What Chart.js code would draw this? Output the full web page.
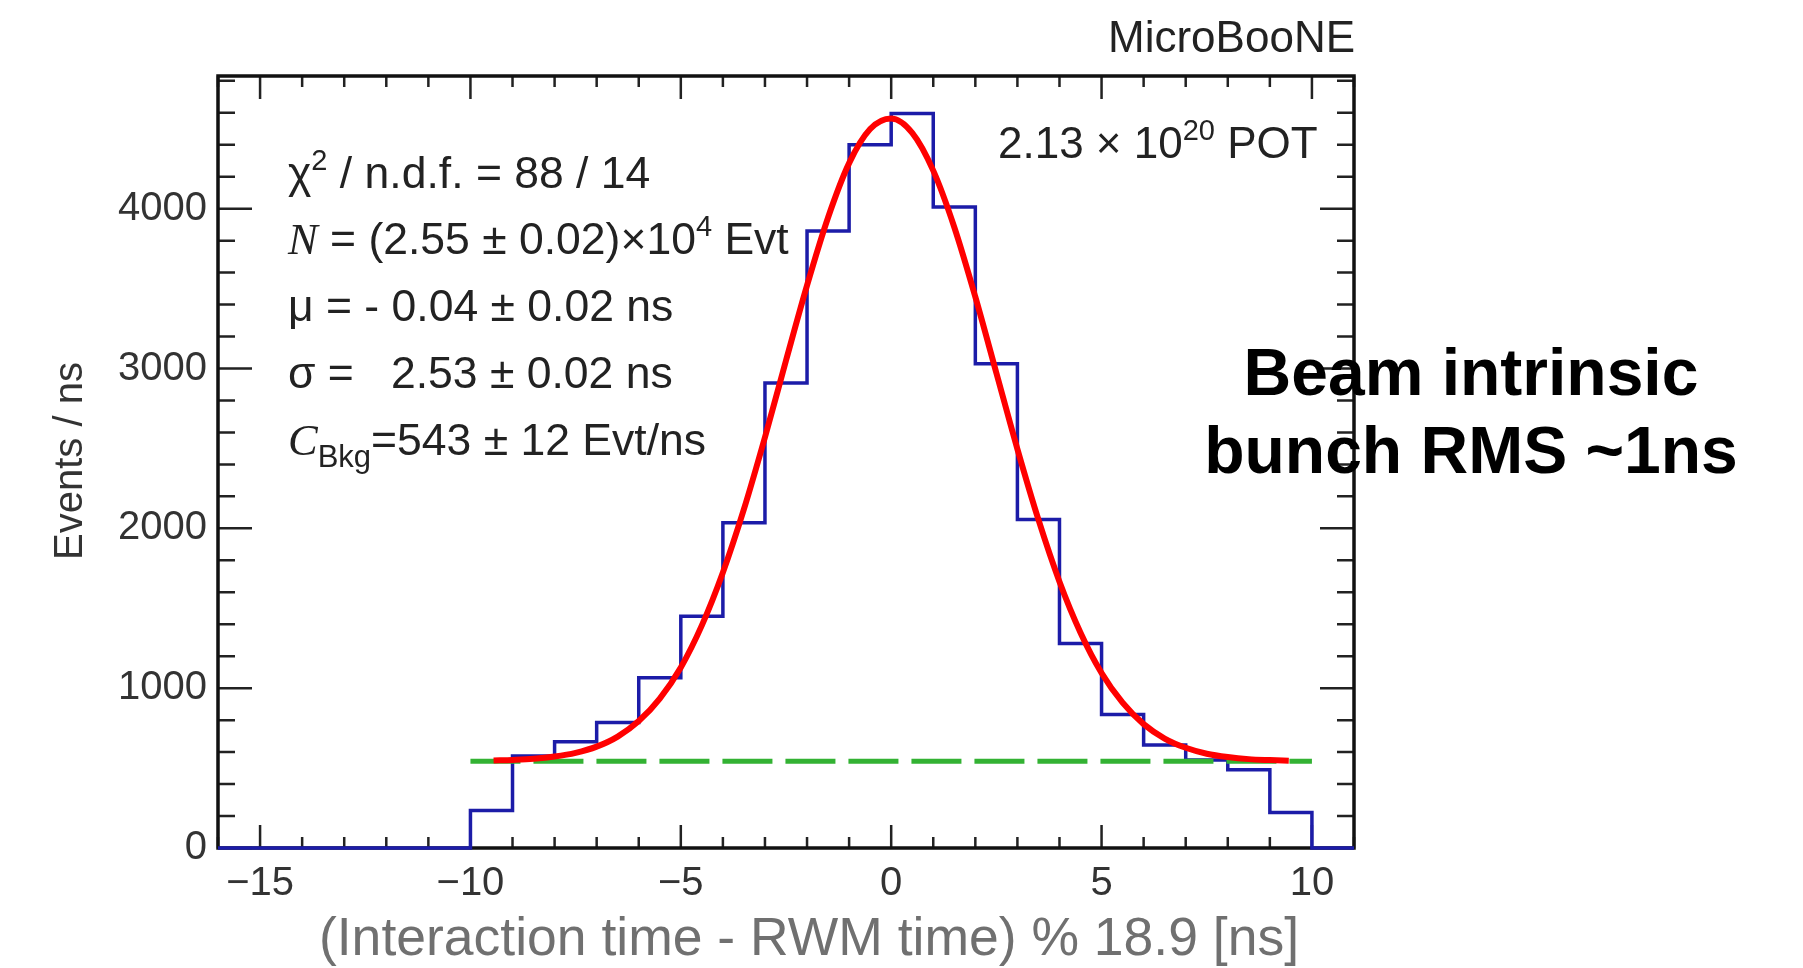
<!DOCTYPE html>
<html>
<head>
<meta charset="utf-8">
<script src="https://cdn.jsdelivr.net/npm/chart.js@4/dist/chart.umd.min.js"></script>
<style>
  html, body { margin: 0; padding: 0; background: #fff; }
  #graphicTiming { display: block; }
</style>
</head>
<body>
<canvas id="graphicTiming" width="1803" height="968"></canvas>
<script>
// histogram of (interaction time - RWM time) % 18.9, 1 ns bins
const binEdges = [-10, -9, -8, -7, -6, -5, -4, -3, -2, -1, 0, 1, 2, 3, 4, 5, 6, 7, 8, 9, 10];
const eventsPerNs = [235, 575, 665, 785, 1065, 1450, 2035, 2910, 3860, 4400,
                     4595, 4010, 3030, 2055, 1280, 835, 645, 550, 490, 222];

// gaussian + flat background fit
const fitTimes = [-9.45, -9, -8.5, -8, -7.5, -7, -6.5, -6, -5.5, -5, -4.5, -4, -3.5, -3, -2.5, -2, -1.5, -1, -0.5,
                  0, 0.5, 1, 1.5, 2, 2.5, 3, 3.5, 4, 4.5, 5, 5.5, 6, 6.5, 7, 7.5, 8, 8.5, 9, 9.45];
const fitValues = [547, 551, 558, 572, 595, 634, 697, 794, 935, 1130, 1393, 1724, 2120, 2570, 3050, 3520, 3945, 4285, 4498,
                   4564, 4474, 4238, 3884, 3448, 2972, 2496, 2054, 1666, 1347, 1095, 909, 775, 685, 627, 590, 569, 556, 550, 546];

// background level (C_Bkg)
const bkgTimes = [-10, 10];
const bkgValues = [543, 543];

const xTickLabels = [-15, -10, -5, 0, 5, 10];
const yTickLabels = [0, 1000, 2000, 3000, 4000];

const SANS = '"Liberation Sans", Arial, Helvetica, sans-serif';
const SERIF = '"Liberation Serif", "Times New Roman", serif';

function drawRuns(ctx, x, y, runs) {
  runs.forEach(r => {
    ctx.font = r.font;
    ctx.fillText(r.t, x, y + (r.dy || 0));
    x += ctx.measureText(r.t).width;
  });
}

// ROOT style frame: box + inward ticks on all four sides, and the text
const rootStyle = {
  id: "rootStyle",
  beforeDatasetsDraw(chart) {
    const { ctx, chartArea: a } = chart;
    const xs = chart.scales.x, ys = chart.scales.y;
    ctx.save();
    ctx.strokeStyle = "#222";
    ctx.lineWidth = 2.5;
    ctx.beginPath();
    for (let v = Math.ceil(xs.min); v <= Math.floor(xs.max); v++) {
      const px = xs.getPixelForValue(v);
      const len = v % 5 === 0 ? 23 : 11;
      ctx.moveTo(px, a.bottom); ctx.lineTo(px, a.bottom - len);
      ctx.moveTo(px, a.top); ctx.lineTo(px, a.top + len);
    }
    for (let v = 0; v <= ys.max; v += 200) {
      const py = ys.getPixelForValue(v);
      const len = v % 1000 === 0 ? 34 : 17;
      ctx.moveTo(a.left, py); ctx.lineTo(a.left + len, py);
      ctx.moveTo(a.right, py); ctx.lineTo(a.right - len, py);
    }
    ctx.stroke();
    ctx.strokeStyle = "#111";
    ctx.lineWidth = 3.5;
    ctx.strokeRect(a.left, a.top, a.right - a.left, a.bottom - a.top);
    ctx.restore();
  },
  afterDraw(chart) {
    const ctx = chart.ctx;
    ctx.save();
    ctx.textBaseline = "alphabetic";

    ctx.fillStyle = "#222";
    ctx.textAlign = "right";
    ctx.font = "44px " + SANS;
    ctx.fillText("MicroBooNE", 1355, 52);

    ctx.textAlign = "left";
    const sup = "29px " + SANS;
    drawRuns(ctx, 998, 158, [
      { t: "2.13 \u00d7 10", font: "44px " + SANS }, { t: "20", font: sup, dy: -18 },
      { t: " POT", font: "44px " + SANS }
    ]);

    const f = "44.5px " + SANS, it = "italic 44.5px " + SERIF;
    const x0 = 288;
    drawRuns(ctx, x0, 188, [
      { t: "\u03c7", font: f }, { t: "2", font: sup, dy: -18 }, { t: " / n.d.f. = 88 / 14", font: f }
    ]);
    drawRuns(ctx, x0, 254, [
      { t: "N", font: it }, { t: " = (2.55 \u00b1 0.02)\u00d710", font: f },
      { t: "4", font: sup, dy: -18 }, { t: " Evt", font: f }
    ]);
    drawRuns(ctx, x0, 321, [{ t: "\u03bc = - 0.04 \u00b1 0.02 ns", font: f }]);
    drawRuns(ctx, x0, 388, [{ t: "\u03c3 =   2.53 \u00b1 0.02 ns", font: f }]);
    drawRuns(ctx, x0, 455, [
      { t: "C", font: it }, { t: "Bkg", font: "31px " + SANS, dy: 12 },
      { t: "=543 \u00b1 12 Evt/ns", font: f }
    ]);

    // axis titles
    ctx.fillStyle = "#333";
    ctx.textAlign = "center";
    ctx.font = "40px " + SANS;
    ctx.save();
    ctx.translate(82, 461);
    ctx.rotate(-Math.PI / 2);
    ctx.fillText("Events / ns", 0, 0);
    ctx.restore();

    ctx.fillStyle = "#707070";
    ctx.font = "53.5px " + SANS;
    ctx.fillText("(Interaction time - RWM time) % 18.9 [ns]", 809, 955);

    // annotation
    ctx.fillStyle = "#000";
    ctx.font = "bold 66px " + SANS;
    ctx.fillText("Beam intrinsic", 1471, 395);
    ctx.fillText("bunch RMS ~1ns", 1471, 473);
    ctx.restore();
  }
};

// step points: empty from -16 to -10 and from 10 to 11
const histPoints = [{ x: -16, y: 0 }];
eventsPerNs.forEach((v, i) => histPoints.push({ x: binEdges[i], y: v }));
histPoints.push({ x: binEdges[binEdges.length - 1], y: 0 }, { x: 11, y: 0 });

const ctx = document.getElementById("graphicTiming").getContext("2d");

new Chart(ctx, {
  type: "line",
  data: {
    datasets: [
      {
        label: "fit",
        data: fitTimes.map((t, i) => ({ x: t, y: fitValues[i] })),
        borderColor: "#ff0000",
        borderWidth: 6,
        pointRadius: 0,
        cubicInterpolationMode: "monotone",
        fill: false,
      },
      {
        label: "background",
        data: bkgTimes.map((t, i) => ({ x: t, y: bkgValues[i] })),
        borderColor: "#33b233",
        borderWidth: 5,
        borderDash: [50, 13],
        pointRadius: 0,
        fill: false,
      },
      {
        label: "data",
        data: histPoints,
        borderColor: "#1c1ca8",
        borderWidth: 3.5,
        stepped: true,
        pointRadius: 0,
        fill: false,
        clip: false,
      },
    ],
  },
  options: {
    responsive: false,
    animation: false,
    layout: { padding: { left: 0, right: 449, top: 76, bottom: 0 } },
    plugins: { legend: { display: false }, tooltip: { enabled: false } },
    scales: {
      x: {
        type: "linear",
        min: -16,
        max: 11,
        grid: { display: false, drawTicks: false },
        border: { display: false },
        afterBuildTicks: s => { s.ticks = xTickLabels.map(v => ({ value: v })); },
        afterFit: s => { s.height = 120; },
        ticks: {
          padding: 12,
          color: "#333",
          font: { family: SANS, size: 40 },
          maxRotation: 0,
          autoSkip: false,
          callback: v => String(v).replace("-", "\u2212"),
        },
      },
      y: {
        type: "linear",
        min: 0,
        max: 4830,
        grid: { display: false, drawTicks: false },
        border: { display: false },
        afterBuildTicks: s => { s.ticks = yTickLabels.map(v => ({ value: v })); },
        afterFit: s => { s.width = 218; },
        ticks: {
          padding: 11,
          color: "#333",
          font: { family: SANS, size: 40 },
          autoSkip: false,
          callback: v => String(v),
        },
      },
    },
  },
  plugins: [rootStyle],
});
</script>
</body>
</html>
